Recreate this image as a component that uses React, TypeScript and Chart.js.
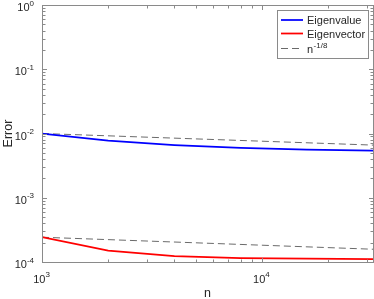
import React, { useEffect, useRef } from "react";
import { Chart, registerables } from "chart.js";

Chart.register(...registerables);

// ---- data ----
const nValues = [1000, 2000, 4000, 8000, 16000, 32000];
const eigenvalueError = [0.01, 0.00775, 0.00662, 0.00595, 0.0056, 0.0054];
const eigenvectorError = [2.43e-4, 1.5e-4, 1.23e-4, 1.15e-4, 1.125e-4, 1.11e-4];
const refN = [1000, 32000];
const refUpper = [0.01, 0.0066];
const refLower = [2.43e-4, 1.58e-4];

const xTickValues = [1000, 10000];
const xTickExponents = ["3", "4"];
const yTickValues = [1, 0.1, 0.01, 0.001, 0.0001];
const yTickExponents = ["0", "-1", "-2", "-3", "-4"];

const seriesLabels = ["Eigenvalue", "Eigenvector", "n", "-1/8"];

const FONT = '"Liberation Sans", Arial, Helvetica, sans-serif';
const AXIS_COLOR = "#8a8a8a";
const TEXT_COLOR = "#262626";

const pts = (xs: number[], ys: number[]) => xs.map((x, i) => ({ x, y: ys[i] }));

const matlabAxes = {
  id: "matlabAxes",
  afterDraw(chart: any) {
    const ctx: CanvasRenderingContext2D = chart.ctx;
    const { left, right, top, bottom } = chart.chartArea;
    const xs = chart.scales.x;
    const ys = chart.scales.y;
    ctx.save();
    // minor & major ticks, inward, on all four sides
    ctx.strokeStyle = AXIS_COLOR;
    ctx.lineWidth = 1;
    ctx.beginPath();
    for (let d = 3; d <= 4; d++) {
      for (let m = 1; m <= 9; m++) {
        const v = m * Math.pow(10, d);
        if (v < xs.min - 1e-9 || v > xs.max + 1e-9) continue;
        const px = Math.round(xs.getPixelForValue(v)) + 0.5;
        const len = m === 1 ? 4 : 2.5;
        ctx.moveTo(px, bottom);
        ctx.lineTo(px, bottom - len);
        ctx.moveTo(px, top + 1);
        ctx.lineTo(px, top + 1 + len);
      }
    }
    for (let d = -4; d <= 0; d++) {
      for (let m = 1; m <= 9; m++) {
        const v = m * Math.pow(10, d);
        if (v < ys.min * 0.999999 || v > ys.max * 1.000001) continue;
        const py = Math.round(ys.getPixelForValue(v)) + 0.5;
        const len = m === 1 ? 4 : 2.5;
        ctx.moveTo(left + 1, py);
        ctx.lineTo(left + 1 + len, py);
        ctx.moveTo(right, py);
        ctx.lineTo(right - len, py);
      }
    }
    ctx.stroke();
    // box
    ctx.strokeRect(left + 0.5, top + 0.5, right - left, bottom - top);

    // tick labels
    ctx.fillStyle = TEXT_COLOR;
    ctx.textBaseline = "alphabetic";
    ctx.textAlign = "left";
    const baseFont = `11px ${FONT}`;
    const supFont = `8px ${FONT}`;
    xTickValues.forEach((v, i) => {
      const px = xs.getPixelForValue(v);
      ctx.font = baseFont;
      const wb = ctx.measureText("10").width;
      ctx.font = supFont;
      const ws = ctx.measureText(xTickExponents[i]).width;
      const start = px - (wb + ws) / 2 - 0.5;
      ctx.font = baseFont;
      ctx.fillText("10", start, 283);
      ctx.font = supFont;
      ctx.fillText(xTickExponents[i], start + wb, 277);
    });
    yTickValues.forEach((v, i) => {
      const py = ys.getPixelForValue(v);
      ctx.font = supFont;
      const ws = ctx.measureText(yTickExponents[i]).width;
      ctx.font = baseFont;
      const wb = ctx.measureText("10").width;
      const supX = 34 - ws;
      ctx.fillText("10", supX - wb, py + 6);
      ctx.font = supFont;
      ctx.fillText(yTickExponents[i], supX, py + 0.5);
    });

    // axis titles
    ctx.font = `12.5px ${FONT}`;
    ctx.textAlign = "center";
    ctx.fillText("n", (left + right) / 2, 297);
    ctx.save();
    ctx.translate(11.5, (top + bottom) / 2);
    ctx.rotate(-Math.PI / 2);
    ctx.fillText("Error", 0, 0);
    ctx.restore();

    // legend
    const bx = 277.5, by = 10.5, bw = 91, bh = 48;
    ctx.fillStyle = "#ffffff";
    ctx.fillRect(bx, by, bw, bh);
    ctx.strokeStyle = AXIS_COLOR;
    ctx.strokeRect(bx, by, bw, bh);
    const ds = chart.data.datasets;
    const rows = [
      { y: 20, ds: ds[0], text: seriesLabels[0] },
      { y: 33.5, ds: ds[1], text: seriesLabels[1] },
      { y: 48.5, ds: ds[2], text: seriesLabels[2], sup: seriesLabels[3] },
    ];
    rows.forEach((r) => {
      ctx.beginPath();
      ctx.strokeStyle = r.ds.borderColor;
      ctx.lineWidth = r.ds.borderWidth;
      ctx.setLineDash(r.ds.borderDash || []);
      ctx.moveTo(281, r.y);
      ctx.lineTo(303, r.y);
      ctx.stroke();
      ctx.setLineDash([]);
      ctx.fillStyle = TEXT_COLOR;
      ctx.textAlign = "left";
      ctx.font = baseFont;
      ctx.fillText(r.text, 307, r.y + 4);
      if (r.sup) {
        const w = ctx.measureText(r.text).width;
        ctx.font = supFont;
        ctx.fillText(r.sup, 307 + w + 0.5, r.y - 1);
      }
    });
    ctx.restore();
  },
};

export default function App() {
  const ref = useRef<HTMLCanvasElement | null>(null);
  useEffect(() => {
    if (!ref.current) return;
    const chart = new Chart(ref.current, {
      type: "line",
      data: {
        datasets: [
          {
            label: seriesLabels[0],
            data: pts(nValues, eigenvalueError),
            borderColor: "#0000ff",
            borderWidth: 1.75,
            pointRadius: 0,
            tension: 0,
          },
          {
            label: seriesLabels[1],
            data: pts(nValues, eigenvectorError),
            borderColor: "#ff0000",
            borderWidth: 1.75,
            pointRadius: 0,
            tension: 0,
          },
          {
            label: "n^-1/8",
            data: pts(refN, refUpper),
            borderColor: "#6a6a6a",
            borderWidth: 1,
            borderDash: [7, 4],
            pointRadius: 0,
            tension: 0,
          },
          {
            label: "n^-1/8 (2)",
            data: pts(refN, refLower),
            borderColor: "#6a6a6a",
            borderWidth: 1,
            borderDash: [7, 4],
            pointRadius: 0,
            tension: 0,
          },
        ],
      },
      options: {
        animation: false,
        responsive: false,
        layout: { padding: { left: 42, right: 1, top: 5, bottom: 37 } },
        scales: {
          x: { type: "logarithmic", min: 1000, max: 32000, display: false },
          y: { type: "logarithmic", min: 0.0001, max: 1, display: false },
        },
        plugins: {
          legend: { display: false },
          tooltip: { enabled: false },
        },
      },
      plugins: [matlabAxes],
    });
    return () => chart.destroy();
  }, []);
  return (
    <div style={{ position: "absolute", left: 0, top: 0, width: 374, height: 299, background: "#fff" }}>
      <canvas ref={ref} width={374} height={299} style={{ display: "block" }} />
    </div>
  );
}
